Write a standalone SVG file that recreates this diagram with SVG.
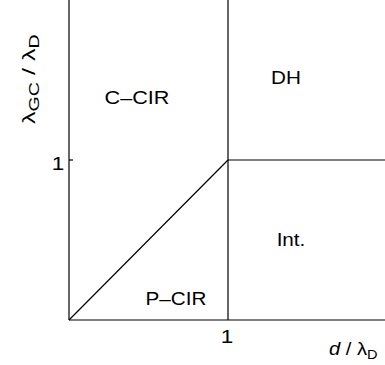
<svg xmlns="http://www.w3.org/2000/svg" width="385" height="365" viewBox="0 0 385 365">
<style>
text{font-family:"Liberation Sans",Arial,sans-serif;font-size:18px;fill:#000}
.ln{stroke:#000;stroke-width:1.2;fill:none}
.sub{font-size:13px}
</style>
<rect width="385" height="365" fill="#fff"/>
<g id="axes">
<line class="ln" x1="69" y1="0" x2="69" y2="320"/>
<line class="ln" x1="69" y1="320" x2="385" y2="320"/>
<line class="ln" x1="69" y1="160" x2="73" y2="160"/>
<text transform="translate(58,170) scale(1.25,1)" text-anchor="middle" font-size="20">1</text>
<text transform="translate(227,343) scale(1.25,1)" text-anchor="middle" font-size="20">1</text>
<text transform="translate(329,355) scale(1.12,1)" font-size="19"><tspan font-style="italic">d</tspan> / λ<tspan class="sub" dy="4">D</tspan></text>
<text transform="translate(35,124) rotate(-90) scale(1.4,1)" font-size="22">λ<tspan font-size="14" dy="4">GC</tspan><tspan dy="-4"> / λ</tspan><tspan font-size="14" dy="4">D</tspan></text>
</g>
<g id="connectors">
<line class="ln" x1="228" y1="0" x2="228" y2="320"/>
<line class="ln" x1="228" y1="160" x2="385" y2="160"/>
<line class="ln" x1="69" y1="320" x2="228" y2="160"/>
</g>
<g id="C-CIR"><text transform="translate(137,104) scale(1.2,1)" text-anchor="middle">C–CIR</text></g>
<g id="DH"><text transform="translate(286,84) scale(1.15,1)" text-anchor="middle">DH</text></g>
<g id="Int"><text transform="translate(291,246) scale(1.15,1)" text-anchor="middle">Int.</text></g>
<g id="P-CIR"><text transform="translate(176,305) scale(1.15,1)" text-anchor="middle">P–CIR</text></g>
</svg>
